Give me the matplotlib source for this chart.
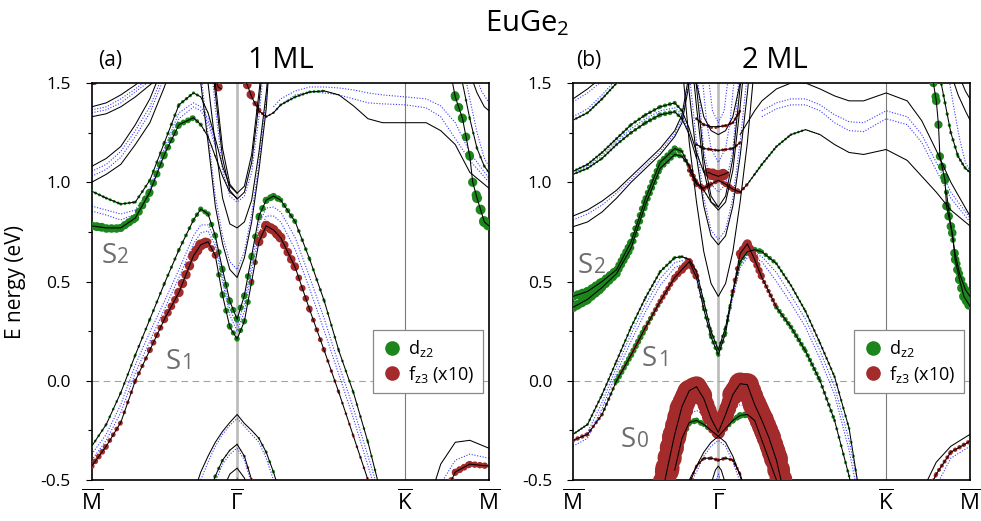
import math
import matplotlib
matplotlib.use("Agg")
import matplotlib.pyplot as plt
from matplotlib.lines import Line2D
from matplotlib.ticker import MultipleLocator, FormatStrFormatter
from matplotlib.transforms import offset_copy

plt.rcParams['font.family'] = ['Open Sans', 'DejaVu Sans']
plt.rcParams['mathtext.fontset'] = 'custom'
plt.rcParams['mathtext.rm'] = 'Open Sans'
plt.rcParams['mathtext.it'] = 'Open Sans'
plt.rcParams['axes.unicode_minus'] = False

# k path: M=0, Gamma=1, K=2.155, M=2.732
k_ticks = [0.0, 1.0, 2.155, 2.732]
k_labels = [r'$\overline{\mathrm{M}}$', r'$\overline{\mathrm{\Gamma}}$',
            r'$\overline{\mathrm{K}}$', r'$\overline{\mathrm{M}}$']

# bands: (k, E) plain, or (k, E, d_z2 weight, f_z3 weight x10)
# ---------------- panel (a) 1 ML ----------------
a_s1_out = [(0.0,-0.33,.2,0),(0.1,-0.22,.2,0),(0.2,-0.06,.2,0),(0.3,0.13,.2,0),(0.4,0.31,.22,0),
            (0.5,0.49,.22,0),(0.6,0.66,.25,0),(0.7,0.81,.3,0),(0.75,0.865,.35,0),(0.8,0.84,.4,0),
            (0.85,0.73,.4,0),(0.9,0.56,.45,0),(0.95,0.40,.45,0),(1.0,0.31,.45,0),(1.05,0.43,.45,0),
            (1.1,0.63,.45,0),(1.15,0.83,.45,0),(1.2,0.91,.5,0),(1.25,0.93,.5,0),(1.3,0.91,.45,0),
            (1.4,0.80,.3,0),(1.5,0.61,.25,0),(1.6,0.40,.22,0),(1.7,0.15,.2,0),(1.8,-0.06,.2,0),
            (1.9,-0.31,.2,0),(2.0,-0.6,.2,0)]
a_s1_in = [(0.0,-0.43,0,.45),(0.1,-0.33,0,.4),(0.2,-0.21,0,.3),(0.3,0.0,0,.25),(0.4,0.155,0,.38),
           (0.5,0.31,0,.5),(0.6,0.445,0,.62),(0.7,0.63,0,.75),(0.75,0.685,0,.8),(0.8,0.70,0,.75),
           (0.85,0.63,.35,.25),(0.9,0.43,.45,0),(0.95,0.27,.4,0),(1.0,0.21,.35,.1),(1.05,0.30,.4,0),
           (1.1,0.50,.45,.1),(1.15,0.70,.35,.55),(1.2,0.78,0,.75),(1.25,0.76,0,.75),(1.3,0.72,0,.7),
           (1.4,0.57,0,.55),(1.5,0.355,0,.42),(1.6,0.15,0,.3),(1.7,-0.06,0,.2),(1.8,-0.28,0,.2),
           (1.9,-0.5,0,.2),(2.0,-0.72,0,.2)]
a_s1_b1 = [(0.0,-0.40),(0.1,-0.30),(0.2,-0.16),(0.3,0.04),(0.4,0.20),(0.5,0.36),(0.6,0.52),(0.7,0.69),
           (0.75,0.745),(0.8,0.755),(0.85,0.68),(0.9,0.50),(0.95,0.33),(1.0,0.25),(1.05,0.35),(1.1,0.55),
           (1.15,0.74),(1.2,0.83),(1.25,0.83),(1.3,0.80),(1.4,0.66),(1.5,0.46),(1.6,0.25),(1.7,0.03),
           (1.8,-0.19),(1.9,-0.43),(2.0,-0.66)]
a_s1_b2 = [(0.0,-0.37),(0.1,-0.27),(0.2,-0.12),(0.3,0.08),(0.4,0.245),(0.5,0.40),(0.6,0.56),(0.7,0.73),
           (0.75,0.785),(0.8,0.785),(0.85,0.71),(0.9,0.53),(0.95,0.36),(1.0,0.28),(1.05,0.39),(1.1,0.59),
           (1.15,0.79),(1.2,0.87),(1.25,0.875),(1.3,0.85),(1.4,0.72),(1.5,0.52),(1.6,0.31),(1.7,0.08),
           (1.8,-0.14),(1.9,-0.38),(2.0,-0.62)]
a_km_out = [(2.3,-0.65),(2.4,-0.42),(2.5,-0.31),(2.6,-0.30),(2.732,-0.34)]
a_km_bl = [(2.35,-0.62),(2.4,-0.52),(2.5,-0.40),(2.6,-0.37),(2.732,-0.39)]
a_km_in = [(2.4,-0.65,0,.4),(2.45,-0.54,0,.45),(2.5,-0.46,0,.5),(2.6,-0.42,0,.5),(2.732,-0.43,0,.45)]
a_s2 = [(0.0,0.78,.65,0),(0.1,0.77,.65,0),(0.2,0.77,.6,0),(0.3,0.82,.6,0),(0.4,0.95,.55,0),
        (0.5,1.14,.5,0),(0.6,1.29,.45,0),(0.7,1.325,.4,0),(0.75,1.29,.2,.1),(0.8,1.23,.1,.15),
        (0.85,1.13,0,.1),(0.9,1.03,0,0),(0.95,0.95,0,0),(1.0,0.92,0,0)]
a_b3 = [(0.0,0.955,.22,0),(0.1,0.92,.22,0),(0.2,0.89,.22,0),(0.3,0.90,.22,0),(0.4,1.01,.22,0),
        (0.5,1.20,.25,0),(0.6,1.39,.25,0),(0.7,1.45,.25,0),(0.75,1.43,.2,0),(0.8,1.35,0,0),
        (0.85,1.22,0,0),(0.9,1.08,0,0),(0.95,0.98,0,0),(1.0,0.945,0,0)]
a_s2_b1 = [(0.0,0.88),(0.1,0.86),(0.2,0.84),(0.3,0.86),(0.4,0.97),(0.5,1.17),(0.6,1.35),(0.7,1.40),
           (0.75,1.38),(0.8,1.32),(0.85,1.2)]
a_s2_b2 = [(0.0,0.855),(0.1,0.835),(0.2,0.81),(0.3,0.84),(0.4,0.955),(0.5,1.15),(0.6,1.32),(0.7,1.38),
           (0.75,1.36),(0.8,1.3),(0.85,1.18)]
a_b4 = [(0.0,1.08),(0.1,1.12),(0.2,1.18),(0.3,1.29),(0.4,1.42),(0.5,1.6)]
a_b5 = [(0.0,1.0),(0.1,1.04),(0.2,1.09),(0.3,1.19),(0.4,1.30),(0.5,1.48),(0.6,1.7)]
a_b45_b1 = [(0.0,1.055),(0.1,1.09),(0.2,1.155),(0.3,1.26),(0.4,1.38),(0.5,1.56)]
a_b45_b2 = [(0.0,1.03),(0.1,1.065),(0.2,1.125),(0.3,1.23),(0.4,1.35),(0.5,1.53)]
a_b6 = [(0.0,1.38),(0.1,1.40),(0.2,1.44),(0.3,1.49),(0.4,1.55)]
a_b7 = [(0.0,1.33),(0.1,1.345),(0.2,1.38),(0.3,1.43),(0.4,1.49),(0.5,1.55)]
a_b67_b1 = [(0.0,1.365),(0.1,1.38),(0.2,1.42),(0.3,1.47),(0.4,1.53)]
a_b67_b2 = [(0.0,1.35),(0.1,1.365),(0.2,1.40),(0.3,1.455),(0.4,1.51)]
a_b8 = [(0.0,1.49,0,.2),(0.1,1.52,0,.2)]
a_p1 = [(0.7,1.8),(0.75,1.5),(0.8,1.2),(0.85,0.88),(0.9,0.69),(0.95,0.56),(1.0,0.52),(1.05,0.62),
        (1.1,0.80),(1.15,1.06),(1.2,1.37),(1.25,1.9)]
a_p2 = [(0.75,1.75),(0.8,1.5),(0.85,1.19),(0.9,0.92),(0.95,0.79),(1.0,0.77),(1.05,0.80),(1.1,0.91),
        (1.15,1.15),(1.2,1.45),(1.25,1.8)]
a_p3 = [(0.8,1.8),(0.85,1.45),(0.9,1.12),(0.95,0.96),(1.0,0.915),(1.05,0.95),(1.1,1.10),(1.15,1.4),(1.2,1.75)]
a_p4 = [(0.8,1.85),(0.85,1.5),(0.9,1.17),(0.95,0.99),(1.0,0.945),(1.05,0.98),(1.1,1.14),(1.15,1.45),(1.2,1.8)]
a_pb1 = [(0.75,1.55),(0.8,1.24),(0.85,0.93),(0.9,0.73),(0.95,0.6),(1.0,0.56),(1.05,0.65),(1.1,0.84),
         (1.15,1.1),(1.2,1.42),(1.25,1.9)]
a_pb2 = [(0.8,1.75),(0.85,1.38),(0.9,1.06),(0.95,0.93),(1.0,0.90),(1.05,0.93),(1.1,1.05),(1.15,1.33),(1.2,1.7)]
a_top = [(1.03,1.56,0,.6),(1.07,1.49,0,.7),(1.1,1.43,0,.55),(1.15,1.36,0,.25),(1.2,1.33,0,.2),
         (1.25,1.35,.15,.1),(1.3,1.39,.2,0),(1.4,1.43,.2,0),(1.5,1.455,.22,0),(1.6,1.46,.22,0),
         (1.7,1.44,0,0),(1.8,1.385,0,0),(1.9,1.32,0,0),(2.0,1.30,0,0),(2.155,1.30,0,0),(2.3,1.30,0,0),
         (2.4,1.26,0,0),(2.5,1.19,0,0),(2.6,1.05,0,0),(2.732,0.97,0,0)]
a_lt = [(0.85,1.52,0,.6),(0.87,1.48,0,.7),(0.89,1.47,0,.6)]
a_top_b1 = [(1.25,1.38),(1.3,1.42),(1.4,1.46),(1.5,1.48),(1.6,1.48),(1.7,1.475),(1.8,1.465),(1.9,1.45),
            (2.0,1.44),(2.155,1.43),(2.3,1.42),(2.4,1.385),(2.5,1.30),(2.6,1.15),(2.732,1.02)]
a_top_b2 = [(1.25,1.35),(1.3,1.39),(1.4,1.44),(1.5,1.455),(1.6,1.45),(1.7,1.44),(1.8,1.42),(1.9,1.40),
            (2.0,1.395),(2.155,1.39),(2.3,1.375),(2.4,1.33),(2.5,1.22),(2.6,1.11),(2.732,1.0)]
a_rg = [(2.45,1.62,.6,0),(2.5,1.43,.65,0),(2.55,1.32,.65,0),(2.6,1.13,.6,0),(2.62,1.0,.65,0),
        (2.65,0.92,.7,0),(2.7,0.80,.75,0),(2.732,0.78,.75,0)]
a_re1 = [(2.52,1.6,.2,0),(2.55,1.5,.2,0),(2.6,1.32,.2,0),(2.65,1.17,.2,0),(2.7,1.08,.2,0),(2.732,1.05,.2,0)]
a_re2 = [(2.55,1.6),(2.6,1.42),(2.65,1.25),(2.7,1.12),(2.732,1.08)]
a_re3 = [(2.6,1.55),(2.65,1.45),(2.7,1.38),(2.732,1.36)]
a_re4 = [(2.62,1.58),(2.68,1.46),(2.732,1.40)]
a_l1 = [(0.7,-0.57,0,0),(0.75,-0.46,0,0),(0.8,-0.38,0,0),(0.85,-0.31,0,0),(0.9,-0.255,0,0),
        (0.95,-0.21,0,0),(1.0,-0.17,0,0),(1.05,-0.215,0,0),(1.1,-0.25,0,0),(1.15,-0.29,.15,0),
        (1.2,-0.36,.22,0),(1.25,-0.46,.22,0),(1.3,-0.58,.2,0)]
a_l1b = [(0.72,-0.58),(0.75,-0.5),(0.8,-0.41),(0.85,-0.33),(0.9,-0.27),(0.95,-0.225),(1.0,-0.19),
         (1.05,-0.23),(1.1,-0.27),(1.15,-0.31),(1.2,-0.39),(1.25,-0.5)]
a_l2 = [(0.8,-0.58,.25,0),(0.85,-0.48,.25,0),(0.9,-0.40,.25,0),(0.95,-0.35,0,0),(1.0,-0.32,0,0),
        (1.05,-0.38,0,.2),(1.1,-0.50,0,.2),(1.15,-0.62,0,0)]
a_l2b = [(0.82,-0.58),(0.85,-0.51),(0.9,-0.42),(0.95,-0.37),(1.0,-0.34),(1.05,-0.40),(1.1,-0.52)]
a_l3 = [(0.9,-0.55),(0.95,-0.47),(1.0,-0.44),(1.05,-0.49),(1.1,-0.58)]
a_l4 = [(0.95,-0.55),(1.0,-0.49),(1.05,-0.55)]

# ---------------- panel (b) 2 ML ----------------
b_s1_out = [(0.0,-0.27,.15,.15),(0.1,-0.22,.2,0),(0.2,-0.07,.2,0),(0.3,0.10,.2,0),(0.4,0.27,.2,0),
            (0.5,0.42,.2,0),(0.6,0.55,.22,0),(0.7,0.62,.25,0),(0.75,0.625,.25,.1),(0.8,0.61,.2,.1),
            (0.85,0.55,.2,0),(0.9,0.40,.2,0),(0.95,0.25,.25,0),(1.0,0.155,.25,0),(1.05,0.27,.25,0),
            (1.1,0.45,.2,0),(1.15,0.60,.3,0),(1.2,0.65,.4,0),(1.25,0.66,.45,0),(1.3,0.65,.4,0),
            (1.4,0.59,.25,0),(1.5,0.48,.2,0),(1.6,0.35,.2,0),(1.7,0.19,.2,0),(1.8,0.02,.2,0),
            (1.9,-0.24,.2,0),(2.0,-0.7,.2,0)]
b_s1_in = [(0.0,-0.30,0,.35),(0.1,-0.27,0,.3),(0.2,-0.17,.1,.2),(0.3,0.0,.4,.15),(0.4,0.13,.45,.2),
           (0.5,0.27,.45,.25),(0.6,0.40,.3,.35),(0.7,0.52,.1,.45),(0.75,0.56,0,.55),(0.8,0.60,0,.65),
           (0.85,0.52,0,.35),(0.9,0.36,.25,.1),(0.95,0.22,.3,0),(1.0,0.13,.3,0),(1.05,0.24,.3,0),
           (1.1,0.45,.25,.15),(1.15,0.64,0,.55),(1.2,0.69,0,.7),(1.25,0.61,0,.6),(1.3,0.52,.1,.45),
           (1.4,0.37,.35,.2),(1.5,0.27,.35,0),(1.6,0.15,.35,0),(1.7,0.0,.3,0),(1.8,-0.2,.25,0),
           (1.9,-0.48,.2,0),(2.0,-0.8,.2,0)]
b_s1_b1 = [(0.0,-0.33),(0.1,-0.29),(0.2,-0.14),(0.3,0.04),(0.4,0.20),(0.5,0.35),(0.6,0.48),(0.7,0.57),
           (0.75,0.585),(0.8,0.575),(0.85,0.51),(0.9,0.37),(0.95,0.23),(1.0,0.15),(1.05,0.25),(1.1,0.42),
           (1.15,0.57),(1.2,0.62),(1.25,0.62),(1.3,0.60),(1.4,0.50),(1.5,0.39),(1.6,0.27),(1.7,0.11),
           (1.8,-0.07),(1.9,-0.35),(2.0,-0.72)]
b_s1_b2 = [(0.0,-0.31),(0.1,-0.26),(0.2,-0.11),(0.3,0.07),(0.4,0.235),(0.5,0.385),(0.6,0.515),(0.7,0.595),
           (0.75,0.605),(0.8,0.59),(0.85,0.53),(0.9,0.385),(0.95,0.24),(1.0,0.16),(1.05,0.26),(1.1,0.43),
           (1.15,0.585),(1.2,0.635),(1.25,0.64),(1.3,0.625),(1.4,0.545),(1.5,0.43),(1.6,0.31),(1.7,0.15),
           (1.8,-0.03),(1.9,-0.30),(2.0,-0.66)]
b_km_out = [(2.3,-0.75),(2.4,-0.56),(2.5,-0.41),(2.6,-0.33),(2.732,-0.27)]
b_km_in = [(2.4,-0.65,0,.3),(2.45,-0.55,0,.3),(2.5,-0.47,0,.3),(2.6,-0.36,0,.3),(2.732,-0.305,0,.35)]
b_km_bl = [(2.45,-0.65),(2.5,-0.53),(2.6,-0.39),(2.732,-0.33)]
b_s2a = [(0.0,0.425,.65,0),(0.1,0.45,.65,0),(0.2,0.50,.6,0),(0.3,0.56,.55,0),(0.4,0.70,.5,0),
         (0.5,0.92,.45,0),(0.6,1.10,.45,0),(0.7,1.17,.45,0),(0.75,1.155,.4,0),(0.8,1.08,.1,.3),
         (0.85,1.0,0,.35),(0.9,0.96,0,.2),(0.95,0.90,0,0),(1.0,0.875,0,0)]
b_s2b = [(0.0,0.37,.7,0),(0.1,0.41,.7,0),(0.2,0.47,.65,0),(0.3,0.54,.55,0),(0.4,0.67,.5,0),
         (0.5,0.89,.45,0),(0.6,1.07,.4,0),(0.7,1.14,.4,0),(0.75,1.13,.35,0),(0.8,1.08,.2,.2),(0.85,1.0,0,.2)]
b_s2_bl = [(0.0,0.40),(0.1,0.43),(0.2,0.485),(0.3,0.55),(0.4,0.685),(0.5,0.905),(0.6,1.085),(0.7,1.155),
           (0.75,1.14),(0.8,1.08)]
b_g2a = [(0.0,1.055,.2,0),(0.1,1.09,.2,0),(0.2,1.15,.2,0),(0.3,1.22,.22,0),(0.4,1.29,.25,0),
         (0.5,1.34,.25,0),(0.6,1.38,.3,0),(0.7,1.40,.3,0),(0.75,1.36,.2,0),(0.8,1.27,0,0),
         (0.85,1.15,0,0),(0.9,1.05,0,0)]
b_g2b = [(0.0,1.04,.2,0),(0.1,1.07,.2,0),(0.2,1.12,.2,0),(0.3,1.19,.22,0),(0.4,1.25,.25,0),
         (0.5,1.30,.3,0),(0.6,1.34,.35,0),(0.7,1.355,.35,0),(0.75,1.32,.2,0),(0.8,1.24,0,0),(0.85,1.12,0,0)]
b_g2_bl = [(0.0,1.048),(0.1,1.08),(0.2,1.135),(0.3,1.205),(0.4,1.27),(0.5,1.32),(0.6,1.36),(0.7,1.375),
           (0.75,1.34),(0.8,1.25)]
b_b8a = [(0.0,0.83),(0.1,0.86),(0.2,0.905),(0.3,0.96),(0.4,1.03),(0.5,1.10),(0.6,1.17),(0.7,1.26),
         (0.75,1.34),(0.8,1.55)]
b_b8b = [(0.0,0.776),(0.1,0.80),(0.2,0.85),(0.3,0.92),(0.4,1.0),(0.5,1.07),(0.6,1.14),(0.7,1.23),
         (0.75,1.30),(0.8,1.5)]
b_b8_bl = [(0.0,0.81),(0.1,0.84),(0.2,0.885),(0.3,0.945),(0.4,1.015),(0.5,1.085),(0.6,1.155),(0.7,1.245),
           (0.75,1.32),(0.8,1.52)]
b_b9 = [(0.0,1.313,.2,0),(0.1,1.35,.2,0),(0.2,1.42,.2,0),(0.3,1.50,.2,0),(0.4,1.58,.2,0)]
b_b9_bl = [(0.0,1.33),(0.1,1.37),(0.2,1.44),(0.3,1.52)]
b_b10 = [(0.0,1.42),(0.1,1.47),(0.2,1.53)]
b_b10_bl = [(0.0,1.405),(0.1,1.45),(0.2,1.51)]
b_p1 = [(0.75,1.6),(0.8,1.2),(0.85,0.9),(0.9,0.65),(0.95,0.49),(1.0,0.425),(1.05,0.49),(1.1,0.65),
        (1.15,0.9),(1.2,1.2),(1.25,1.6)]
b_p2 = [(0.78,1.6),(0.8,1.45),(0.85,1.13),(0.9,0.88),(0.95,0.73),(1.0,0.685),(1.05,0.73),(1.1,0.88),
        (1.15,1.13),(1.2,1.45),(1.22,1.6)]
b_p3 = [(0.82,1.6),(0.85,1.38),(0.9,1.06),(0.95,0.9),(1.0,0.86),(1.05,0.9),(1.1,1.06),(1.15,1.38),(1.18,1.6)]
b_p4 = [(0.83,1.6),(0.85,1.48),(0.9,1.12),(0.95,0.93),(1.0,0.875),(1.05,0.93),(1.1,1.12),(1.15,1.48),(1.17,1.6)]
b_pb1 = [(0.8,1.55),(0.85,1.2),(0.9,0.92),(0.95,0.76),(1.0,0.71),(1.05,0.76),(1.1,0.92),(1.15,1.2),(1.2,1.55)]
b_pb2 = [(0.85,1.6),(0.9,1.16),(0.95,0.99),(1.0,0.95),(1.05,0.99),(1.1,1.16),(1.15,1.6)]
b_pb3 = [(0.88,1.6),(0.92,1.3),(0.95,1.17),(1.0,1.10),(1.05,1.17),(1.08,1.3),(1.12,1.6)]
b_pb4 = [(0.92,1.6),(0.96,1.36),(1.0,1.30),(1.04,1.36),(1.08,1.6)]
b_f097 = [(0.8,1.06,0,.3),(0.85,0.99,0,.4),(0.9,0.97,0,.45),(0.95,0.99,0,.4),(1.0,1.01,0,.3),
          (1.05,0.99,0,.4),(1.1,0.965,0,.45),(1.15,0.95,0,.4)]
b_f103 = [(0.93,1.05,0,.5),(0.96,1.04,0,.8),(1.0,1.03,0,.9),(1.04,1.04,0,.8),(1.07,1.05,0,.5)]
b_f116 = [(0.85,1.19,0,.2),(0.9,1.17,0,.25),(0.95,1.165,0,.25),(1.0,1.16,0,.2),(1.05,1.165,0,.25),
          (1.1,1.17,0,.25),(1.15,1.2,0,.2)]
b_f124 = [(0.85,1.5),(0.9,1.33),(0.95,1.26),(1.0,1.24),(1.05,1.26),(1.1,1.33),(1.15,1.5)]
b_f128 = [(0.85,1.32,0,.2),(0.9,1.29,0,.25),(0.95,1.28,0,.25),(1.0,1.28,0,.2),(1.05,1.285,0,.25),
          (1.1,1.30,0,.25),(1.15,1.36,0,.2)]
b_top1 = [(1.15,1.24),(1.2,1.30),(1.25,1.36),(1.3,1.41),(1.4,1.47),(1.5,1.50),(1.6,1.50),(1.7,1.47),
          (1.8,1.435),(1.9,1.41),(2.0,1.41),(2.155,1.45),(2.3,1.41),(2.4,1.31),(2.5,1.16),(2.6,1.0),(2.732,0.83)]
b_top2 = [(1.15,0.95,0,.3),(1.2,0.99,.1,.2),(1.25,1.04,.2,0),(1.3,1.09,.2,0),(1.4,1.18,.2,0),
          (1.5,1.24,.2,0),(1.6,1.265,.2,0),(1.7,1.24,0,0),(1.8,1.19,0,0),(1.9,1.15,0,0),(2.0,1.14,0,0),
          (2.155,1.165,0,0),(2.3,1.11,0,0),(2.4,1.03,0,0),(2.5,0.95,0,0),(2.6,0.86,0,0),(2.732,0.78,0,0)]
b_top_b1 = [(1.3,1.36),(1.4,1.40),(1.5,1.42),(1.6,1.42),(1.7,1.39),(1.8,1.34),(1.9,1.305),(2.0,1.30),
            (2.155,1.36),(2.3,1.33),(2.4,1.24),(2.5,1.10),(2.6,0.95),(2.732,0.82)]
b_top_b2 = [(1.3,1.33),(1.4,1.37),(1.5,1.39),(1.6,1.39),(1.7,1.36),(1.8,1.30),(1.9,1.26),(2.0,1.255),
            (2.155,1.32),(2.3,1.29),(2.4,1.2),(2.5,1.06),(2.6,0.92),(2.732,0.80)]
b_rg = [(2.48,1.5,.55,0),(2.5,1.41,.65,0),(2.515,1.29,.6,0),(2.525,1.13,.6,0),(2.56,1.01,.6,0),
        (2.57,0.88,.6,0),(2.61,0.745,.65,0),(2.63,0.61,.6,0),(2.66,0.51,.65,0),(2.69,0.425,.7,0),
        (2.732,0.375,.7,0)]
b_rg2 = [(2.57,0.95,.35,0),(2.6,0.78,.4,0),(2.63,0.64,.45,0),(2.66,0.54,.5,0),(2.7,0.46,.55,0),(2.732,0.425,.6,0)]
b_re1 = [(2.52,1.55,.2,0),(2.56,1.4,.25,0),(2.6,1.25,.25,0),(2.65,1.13,.25,0),(2.7,1.07,.2,0),(2.732,1.05,.2,0)]
b_re2 = [(2.6,1.55),(2.65,1.44),(2.7,1.36),(2.732,1.313)]
b_re3 = [(2.65,1.55),(2.7,1.46),(2.732,1.42)]
b_re_bl = [(2.58,1.55),(2.62,1.38),(2.66,1.22),(2.7,1.1),(2.732,1.06)]
b_s0 = [(0.6,-0.62,0,1.7),(0.65,-0.44,0,1.75),(0.7,-0.27,0,1.75),(0.75,-0.13,0,1.7),(0.8,-0.05,0,1.6),
        (0.85,-0.03,0,1.55),(0.9,-0.09,0,1.45),(0.95,-0.19,0,1.0),(1.0,-0.26,0,0.95),(1.05,-0.17,0,1.0),
        (1.1,-0.07,0,1.45),(1.15,-0.015,0,1.6),(1.2,-0.02,0,1.65),(1.25,-0.12,0,1.7),(1.3,-0.2,0,1.75),
        (1.35,-0.29,0,1.75),(1.4,-0.40,0,1.7),(1.45,-0.56,0,1.6)]
b_g0 = [(0.7,-0.45,.3,0),(0.75,-0.29,.4,0),(0.8,-0.21,.45,0),(0.85,-0.20,.45,0),(0.9,-0.22,.4,0),
        (0.95,-0.25,.35,.3),(1.0,-0.28,.3,.5),(1.05,-0.24,.35,.3),(1.1,-0.2,.4,0),(1.15,-0.175,.5,0),
        (1.2,-0.17,.5,0),(1.25,-0.2,.45,0),(1.3,-0.3,.3,0),(1.4,-0.5,.2,0)]
b_s0_bl = [(0.65,-0.55),(0.7,-0.4),(0.75,-0.22),(0.8,-0.13),(0.85,-0.10),(0.9,-0.13),(0.95,-0.2),
           (1.0,-0.27),(1.05,-0.2),(1.1,-0.12),(1.15,-0.09),(1.2,-0.1),(1.25,-0.18),(1.3,-0.28),
           (1.35,-0.4),(1.4,-0.55)]
b_s0_bl2 = [(0.68,-0.55),(0.72,-0.38),(0.75,-0.28),(0.8,-0.17),(0.85,-0.15),(0.9,-0.17),(0.95,-0.23),
            (1.0,-0.28),(1.05,-0.23),(1.1,-0.15),(1.15,-0.12),(1.2,-0.13),(1.25,-0.21),(1.3,-0.31),(1.35,-0.45)]
b_l1 = [(0.75,-0.6),(0.8,-0.5),(0.85,-0.43),(0.9,-0.36),(0.95,-0.31),(1.0,-0.28),(1.05,-0.31),
        (1.1,-0.38),(1.15,-0.48),(1.2,-0.6)]
b_l1b = [(0.78,-0.6),(0.8,-0.53),(0.85,-0.46),(0.9,-0.38),(0.95,-0.33),(1.0,-0.30),(1.05,-0.33),
         (1.1,-0.41),(1.15,-0.51),(1.18,-0.6)]
b_l2 = [(0.8,-0.52,0,.2),(0.85,-0.43,0,.2),(0.9,-0.39,0,.25),(0.95,-0.39,0,.25),(1.0,-0.40,0,.3),
        (1.05,-0.39,0,.25),(1.1,-0.40,0,.25),(1.15,-0.47,0,.2),(1.2,-0.58,0,.2)]
b_l3 = [(0.95,-0.52),(0.98,-0.45),(1.0,-0.43),(1.02,-0.45),(1.05,-0.52)]
b_l3b = [(0.96,-0.55),(1.0,-0.47),(1.04,-0.55)]

a_black = [a_s1_out, a_s1_in, a_km_out, a_km_in, a_s2, a_b3, a_b4, a_b5, a_b6, a_b7, a_b8,
           a_p1, a_p2, a_p3, a_p4, a_top, a_lt, a_rg, a_re1, a_re3, a_l1, a_l2, a_l3]
a_blue = [a_s1_b1, a_s1_b2, a_km_bl, a_s2_b1, a_s2_b2, a_b45_b1, a_b45_b2, a_b67_b1, a_b67_b2,
          a_pb1, a_pb2, a_top_b1, a_top_b2, a_re2, a_re4, a_l1b, a_l2b, a_l4]
b_black = [b_s1_out, b_s1_in, b_km_out, b_km_in, b_s2a, b_s2b, b_g2a, b_g2b, b_b8a, b_b8b, b_b9,
           b_b10, b_p1, b_p2, b_p3, b_p4, b_f097, b_f103, b_f116, b_f124, b_f128, b_top1, b_top2,
           b_rg, b_rg2, b_re1, b_re2, b_re3, b_s0, b_g0, b_l1, b_l2, b_l3]
b_blue = [b_s1_b1, b_s1_b2, b_km_bl, b_s2_bl, b_g2_bl, b_b8_bl, b_b9_bl, b_b10_bl, b_pb1, b_pb2,
          b_pb3, b_pb4, b_top_b1, b_top_b2, b_re_bl, b_s0_bl, b_s0_bl2, b_l1b, b_l3b]

GREEN = '#1c851c'
RED = '#a32b2b'
BLUE = '#3a3aff'
GREY = '#6e6e6e'
PX_K = 397 / 2.732   # pixels per k unit
PX_E = 397 / 2.0     # pixels per eV


def draw_black(ax, band, kstep):
    k = [p[0] for p in band]
    e = [p[1] for p in band]
    if len(band[0]) == 4:
        for col, idx, z in ((GREEN, 2, 3), (RED, 3, 4)):
            for i in range(len(band) - 1):
                w = 0.5 * (band[i][idx] + band[i + 1][idx])
                if w < 0.05:
                    continue
                lw = 10 * w
                dx = (k[i + 1] - k[i]) * PX_K
                dy = (e[i + 1] - e[i]) * PX_E
                sp = kstep * math.hypot(dx, dy) / max(dx, 1e-6)
                sp = max(sp, min(1.4 * lw / 0.72, 5.0))
                gap = sp * 0.72 / lw
                ax.plot(k[i:i + 2], e[i:i + 2], color=col, lw=lw, ls=(0, (0.001, gap)),
                        dash_capstyle='round', zorder=z)
    ax.plot(k, e, color='k', lw=0.75, zorder=5)


def draw_blue(ax, band):
    k = [p[0] for p in band]
    e = [p[1] for p in band]
    ax.plot(k, e, color=BLUE, lw=0.8, ls=(0, (1, 1.5)), zorder=2)


def setup(ax):
    ax.set_xlim(0, 2.732)
    ax.set_ylim(-0.5, 1.5)
    ax.axvline(1.0, color='#bdbdbd', lw=2.0, zorder=1)
    ax.axvline(2.155, color='#7a7a7a', lw=0.8, zorder=1)
    ax.axhline(0.0, color='#86b886', lw=0.8, ls=(0, (6, 4)), zorder=1)
    ax.set_xticks(k_ticks)
    ax.set_xticklabels(k_labels, fontsize=16)
    ax.tick_params(axis='x', length=0, pad=7)
    ax.set_yticks([-0.5, 0.0, 0.5, 1.0, 1.5])
    ax.yaxis.set_major_formatter(FormatStrFormatter('%.1f'))
    ax.yaxis.set_minor_locator(MultipleLocator(0.25))
    ax.tick_params(axis='y', which='major', length=4, width=0.8, labelsize=12.5, pad=11)
    ax.tick_params(axis='y', which='minor', length=3, width=0.8)
    for s in ax.spines.values():
        s.set_linewidth(1.2)
    handles = [Line2D([], [], marker='o', ls='', color=GREEN, markersize=9.5),
               Line2D([], [], marker='o', ls='', color=RED, markersize=9.5)]
    leg = ax.legend(handles, [r'd$_{\mathregular{z2}}$', r'f$_{\mathregular{z3}}$ (x10)'],
                    loc='upper right', bbox_to_anchor=(0.985, 0.378), borderaxespad=0,
                    fontsize=13, fancybox=False, framealpha=1, edgecolor='#888888',
                    handletextpad=0.3, handlelength=1.2, borderpad=0.45, labelspacing=0.25)
    leg.get_frame().set_linewidth(0.9)
    leg.set_zorder(10)


def s_label(ax, x, y, digit):
    ax.text(x, y, 'S', fontsize=20, color=GREY, ha='left', va='baseline', zorder=8)
    tr = offset_copy(ax.transData, fig=ax.figure, x=11.5, y=0, units='points')
    ax.text(x, y, digit, fontsize=15, color=GREY, ha='left', va='baseline', transform=tr, zorder=8)


fig = plt.figure(figsize=(9.81, 5.21), dpi=100)
ax_a = fig.add_axes([91.7 / 981, 41 / 521, 397.3 / 981, 397 / 521])
ax_b = fig.add_axes([573 / 981, 41 / 521, 397 / 981, 397 / 521])

for ax, blacks, blues, kstep in ((ax_a, a_black, a_blue, 3.5), (ax_b, b_black, b_blue, 2.2)):
    setup(ax)
    for band in blues:
        draw_blue(ax, band)
    for band in blacks:
        draw_black(ax, band, kstep)

s_label(ax_a, 0.065, 0.595, '2')
s_label(ax_a, 0.505, 0.06, '1')
s_label(ax_b, 0.035, 0.545, '2')
s_label(ax_b, 0.475, 0.075, '1')
s_label(ax_b, 0.33, -0.335, '0')

fig.text(527 / 981, 1 - 31.7 / 521, r'EuGe$_{\mathregular{2}}$', fontsize=21, ha='center', va='baseline')
fig.text(110 / 981, 1 - 66 / 521, '(a)', fontsize=15, ha='center', va='baseline')
fig.text(281 / 981, 1 - 68 / 521, '1 ML', fontsize=21, ha='center', va='baseline')
fig.text(589 / 981, 1 - 66 / 521, '(b)', fontsize=15, ha='center', va='baseline')
fig.text(775 / 981, 1 - 68 / 521, '2 ML', fontsize=21, ha='center', va='baseline')
fig.text(16 / 981, 1 - 282 / 521, 'E nergy (eV)', fontsize=15, rotation=90, ha='center', va='center')

fig.savefig('out.png', dpi=100)
